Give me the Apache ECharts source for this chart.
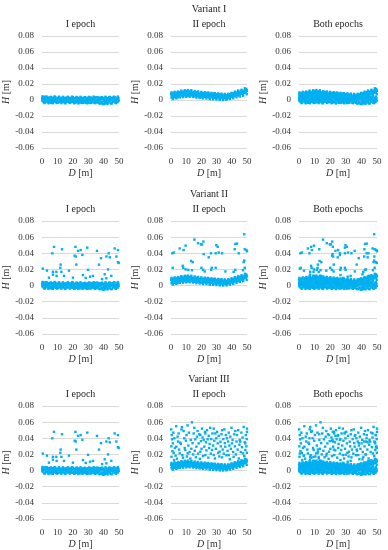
<!DOCTYPE html>
<html><head><meta charset="utf-8">
<script src="https://cdn.jsdelivr.net/npm/echarts@6/dist/echarts.min.js"></script>
<style>html,body{margin:0;padding:0;background:#fff}#c{width:388px;height:550px}</style>
</head><body><div id="c"></div>
<script>
// ---------- DATA ----------
const variantTitles = ['Variant I', 'Variant II', 'Variant III'];
const panelTitles = ['I epoch', 'II epoch', 'Both epochs'];
const yTicks = [-0.06, -0.04, -0.02, 0, 0.02, 0.04, 0.06, 0.08];
const xTicks = [0, 10, 20, 30, 40, 50];

// I epoch: main band of points [D, H]
const bandEpoch1 = [
[0.1,0.0021],[0.4,-0.0012],[0.7,0.0034],[1.1,-0.0025],[1.4,0.0008],[1.8,0.0041],[2.1,-0.0031],[2.5,0.0015],[2.9,-0.0004],[3.2,0.0027],[3.6,-0.0019],[4.0,0.0006],[4.3,-0.0028],[4.7,0.0031],[5.1,-0.0009],[5.4,0.0018],[5.8,-0.0035],[6.2,0.0024],[6.5,-0.0015],[6.9,0.0002],[7.3,0.0029],[7.6,-0.0024],[8.0,0.0011],[8.4,-0.0006],[8.7,0.0036],[9.1,-0.0029],[9.5,0.0017],[9.8,-0.0011],[10.2,0.0025],[10.6,-0.0033],[10.9,0.0007],[11.3,0.0032],[11.7,-0.0018],[12.0,0.0013],[12.4,-0.0026],[12.8,0.0022],[13.1,-0.0003],[13.5,0.0038],[13.9,-0.0021],[14.2,0.0009],[14.6,-0.0032],[15.0,0.0019],[15.3,-0.0008],[15.7,0.0028],[16.1,-0.0023],[16.4,0.0004],[16.8,0.0033],[17.2,-0.0016],[17.5,0.0014],[17.9,-0.0030],[18.3,0.0026],[18.6,-0.0005],[19.0,0.0020],[19.4,-0.0027],[19.7,0.0010],[20.1,0.0035],[20.5,-0.0020],[20.8,0.0003],[21.2,-0.0034],[21.6,0.0023],[21.9,-0.0010],[22.3,0.0030],[22.7,-0.0025],[23.0,0.0012],[23.4,-0.0007],[23.8,0.0027],[24.1,-0.0031],[24.5,0.0016],[24.9,-0.0014],[25.2,0.0005],[25.6,-0.0036],[26.0,0.0021],[26.3,-0.0009],[26.7,0.0011],[27.1,-0.0029],[27.4,0.0024],[27.8,-0.0017],[28.2,0.0006],[28.5,-0.0033],[28.9,0.0018],[29.3,-0.0002],[29.6,0.0029],[30.0,-0.0022],[30.4,0.0013],[30.7,-0.0038],[31.1,0.0008],[31.5,-0.0012],[31.8,0.0031],[32.2,-0.0026],[32.6,0.0017],[32.9,-0.0006],[33.3,0.0022],[33.7,-0.0032],[34.0,0.0010],[34.4,-0.0019],[34.8,0.0034],[35.1,-0.0028],[35.5,0.0004],[35.9,-0.0013],[36.2,0.0026],[36.6,-0.0035],[37.0,0.0015],[37.3,-0.0008],[37.7,0.0030],[38.1,-0.0041],[38.4,0.0009],[38.8,-0.0023],[39.2,0.0019],[39.5,-0.0048],[39.9,0.0025],[40.3,-0.0015],[40.6,0.0003],[41.0,-0.0044],[41.4,0.0028],[41.7,-0.0021],[42.1,0.0012],[42.5,-0.0037],[42.8,0.0023],[43.2,-0.0010],[43.6,0.0032],[43.9,-0.0030],[44.3,0.0007],[44.7,-0.0042],[45.0,0.0020],[45.4,-0.0005],[45.8,0.0029],[46.1,-0.0024],[46.5,0.0014],[46.9,-0.0011],[47.2,0.0036],[47.6,-0.0033],[48.0,0.0008],[48.3,-0.0018],[48.7,0.0027],[49.1,-0.0026],[49.4,0.0015],[49.8,-0.0007],
[0.2,-0.0003],[1.2,0.0012],[2.3,-0.0016],[3.4,0.0003],[4.5,0.0019],[5.6,-0.0022],[6.7,0.0014],[7.8,-0.0001],[8.9,0.0009],[10.0,-0.0017],[11.1,0.0016],[12.2,-0.0004],[13.3,-0.0013],[14.4,0.0026],[15.5,0.0001],[16.6,-0.0020],[17.7,0.0021],[18.8,-0.0012],[19.9,0.0006],[21.0,0.0015],[22.1,-0.0028],[23.2,0.0019],[24.3,0.0002],[25.4,-0.0019],[26.5,0.0027],[27.6,-0.0004],[28.7,-0.0024],[29.8,0.0011],[30.9,0.0001],[32.0,-0.0015],[33.1,0.0005],[34.2,0.0025],[35.3,-0.0011],[36.4,-0.0022],[37.5,0.0007],[38.6,-0.0030],[39.7,0.0013],[40.8,-0.0027],[41.9,-0.0008],[43.0,0.0016],[44.1,-0.0019],[45.2,0.0024],[46.3,-0.0013],[47.4,0.0002],[48.5,-0.0009],[49.6,0.0021],
[0.3,0.0045],[1.6,-0.0038],[3.0,0.0043],[4.2,-0.0041],[5.7,0.0039],[7.0,-0.0040],[8.2,0.0044],[9.7,-0.0037],[11.0,0.0041],[12.6,-0.0039],[13.7,0.0036],[15.2,-0.0042],[16.9,0.0040],[18.1,-0.0036],[19.5,0.0042],[20.9,-0.0040],[22.5,0.0038],[23.6,-0.0043],[25.0,0.0040],[26.6,-0.0037],[27.9,0.0035],[29.1,-0.0041],[30.6,0.0039],[31.9,-0.0036],[33.5,0.0042],[34.6,-0.0040],[36.0,0.0037],[37.4,-0.0045],[38.9,0.0036],[40.0,-0.0052],[41.2,0.0040],[42.6,-0.0047],[44.0,0.0038],[45.3,-0.0044],[46.7,0.0041],[48.1,-0.0039],[49.3,0.0043]
];

// II epoch: main band of points [D, H]
const bandEpoch2 = [
[0.1,0.0072],[0.4,0.0031],[0.8,0.0058],[1.1,0.0024],[1.5,0.0081],[1.9,0.0046],[2.2,0.0089],[2.6,0.0035],[3.0,0.0067],[3.3,0.0042],[3.7,0.0091],[4.1,0.0053],[4.4,0.0032],[4.8,0.0078],[5.2,0.0061],[5.5,0.0097],[5.9,0.0049],[6.3,0.0084],[6.6,0.0055],[7.0,0.0102],[7.4,0.0071],[7.7,0.0048],[8.1,0.0093],[8.5,0.0066],[8.8,0.0108],[9.2,0.0057],[9.6,0.0086],[9.9,0.0074],[10.3,0.0112],[10.7,0.0052],[11.0,0.0095],[11.4,0.0069],[11.8,0.0105],[12.1,0.0056],[12.5,0.0088],[12.9,0.0076],[13.2,0.0109],[13.6,0.0061],[14.0,0.0092],[14.3,0.0050],[14.7,0.0083],[15.1,0.0098],[15.4,0.0047],[15.8,0.0079],[16.2,0.0064],[16.5,0.0096],[16.9,0.0045],[17.3,0.0072],[17.6,0.0089],[18.0,0.0052],[18.4,0.0081],[18.7,0.0038],[19.1,0.0068],[19.5,0.0091],[19.8,0.0049],[20.2,0.0077],[20.6,0.0033],[20.9,0.0062],[21.3,0.0085],[21.7,0.0041],[22.0,0.0071],[22.4,0.0054],[22.8,0.0088],[23.1,0.0036],[23.5,0.0066],[23.9,0.0079],[24.2,0.0043],[24.6,0.0058],[25.0,0.0082],[25.3,0.0029],[25.7,0.0061],[26.1,0.0047],[26.4,0.0075],[26.8,0.0034],[27.2,0.0068],[27.5,0.0052],[27.9,0.0081],[28.3,0.0027],[28.6,0.0057],[29.0,0.0042],[29.4,0.0071],[29.7,0.0024],[30.1,0.0053],[30.5,0.0066],[30.8,0.0031],[31.2,0.0047],[31.6,0.0072],[31.9,0.0019],[32.3,0.0044],[32.7,0.0059],[33.0,0.0026],[33.4,0.0068],[33.8,0.0037],[34.1,0.0012],[34.5,0.0051],[34.9,0.0033],[35.2,0.0064],[35.6,0.0021],[36.0,0.0045],[36.3,0.0058],[36.7,0.0016],[37.1,0.0039],[37.4,0.0062],[37.8,0.0028],[38.2,0.0053],[38.5,0.0071],[38.9,0.0034],[39.3,0.0061],[39.6,0.0046],[40.0,0.0078],[40.4,0.0039],[40.7,0.0066],[41.1,0.0083],[41.5,0.0048],[41.8,0.0072],[42.2,0.0091],[42.6,0.0055],[42.9,0.0079],[43.3,0.0064],[43.7,0.0098],[44.0,0.0058],[44.4,0.0086],[44.8,0.0103],[45.1,0.0069],[45.5,0.0092],[45.9,0.0075],[46.2,0.0111],[46.6,0.0081],[47.0,0.0099],[47.3,0.0072],[47.7,0.0118],[48.1,0.0089],[48.4,0.0106],[48.8,0.0127],[49.2,0.0094],[49.5,0.0138],[49.9,0.0113],
[0.6,0.0049],[1.7,0.0063],[2.8,0.0052],[3.9,0.0074],[5.0,0.0083],[6.1,0.0069],[7.2,0.0087],[8.3,0.0079],[9.4,0.0099],[10.5,0.0081],[11.6,0.0067],[12.7,0.0097],[13.8,0.0083],[14.9,0.0071],[16.0,0.0081],[17.1,0.0058],[18.2,0.0069],[19.3,0.0057],[20.4,0.0052],[21.5,0.0066],[22.6,0.0047],[23.7,0.0059],[24.8,0.0069],[25.9,0.0053],[27.0,0.0043],[28.1,0.0064],[29.2,0.0055],[30.3,0.0038],[31.4,0.0057],[32.5,0.0032],[33.6,0.0049],[34.7,0.0041],[35.8,0.0032],[36.9,0.0049],[38.0,0.0042],[39.1,0.0049],[40.2,0.0056],[41.3,0.0062],[42.4,0.0074],[43.5,0.0081],[44.6,0.0072],[45.7,0.0083],[46.8,0.0094],[47.9,0.0101],[49.0,0.0114],[49.7,0.0124],
[0.3,0.0095],[1.3,0.0012],[2.4,0.0101],[3.5,0.0021],[4.6,0.0106],[5.8,0.0034],[6.8,0.0117],[8.0,0.0036],[9.1,0.0121],[10.1,0.0039],[11.2,0.0124],[12.3,0.0041],[13.4,0.0122],[14.5,0.0038],[15.6,0.0112],[16.7,0.0030],[17.8,0.0107],[18.9,0.0027],[20.0,0.0101],[21.1,0.0021],[22.2,0.0098],[23.3,0.0019],[24.4,0.0094],[25.5,0.0011],[26.6,0.0089],[27.7,0.0009],[28.8,0.0085],[29.9,0.0006],[31.0,0.0082],[32.1,0.0002],[33.2,0.0079],[34.3,0.0001],[35.4,0.0076],[36.5,0.0003],[37.6,0.0077],[38.7,0.0012],[39.8,0.0089],[40.9,0.0022],[42.0,0.0104],[43.1,0.0035],[44.2,0.0118],[45.3,0.0044],[46.4,0.0128],[47.5,0.0054],[48.6,0.0146],[49.8,0.0072]
];

// Outliers, I epoch (Variants II and III)
const outEpoch1 = [
[0.5,0.021],[3.2,0.0185],[4.5,0.0098],[6.7,0.040],[7.8,0.048],[7.1,0.017],[7.1,0.0135],[9.5,0.012],[9.3,0.017],[11.9,0.022],[12.1,0.026],[13.0,0.045],[12.6,0.017],[14.3,0.012],[17.5,0.0185],[20.1,0.0098],[21.2,0.037],[21.7,0.048],[21.9,0.036],[22.3,0.026],[23.4,0.043],[25.1,0.044],[26.2,0.038],[26.6,0.013],[29.4,0.047],[29.9,0.0195],[28.4,0.0095],[31.2,0.011],[33.1,0.012],[35.7,0.043],[37.0,0.026],[38.3,0.034],[39.0,0.008],[40.7,0.014],[41.8,0.036],[42.9,0.020],[43.3,0.040],[44.0,0.035],[45.0,0.012],[47.2,0.046],[48.3,0.036],[49.3,0.044],[49.8,0.028],[49.3,0.029],[41.8,0.009]
];

// Outliers, II epoch, Variant II
const outEpoch2V2 = [
[48.2,0.0636],[1.8,0.041],[0.9,0.040],[1.1,0.022],[5.7,0.046],[8.3,0.044],[9.6,0.0495],[7.7,0.0245],[8.1,0.022],[9.6,0.020],[11.4,0.0195],[13.2,0.0305],[14.3,0.029],[13.8,0.019],[15.4,0.057],[17.8,0.0525],[19.7,0.051],[20.4,0.051],[21.3,0.0545],[21.5,0.039],[20.0,0.022],[21.1,0.0195],[22.2,0.0175],[24.8,0.035],[26.3,0.040],[26.8,0.022],[26.5,0.0195],[29.4,0.022],[29.8,0.050],[30.7,0.048],[29.4,0.040],[31.4,0.041],[33.6,0.040],[35.8,0.0175],[42.3,0.0515],[41.9,0.045],[43.4,0.052],[44.5,0.040],[42.3,0.0195],[41.2,0.017],[47.8,0.029],[48.2,0.031],[48.5,0.045],[50.0,0.0425],[49.6,0.044],[48.5,0.022],[47.4,0.019]
];

// Outliers, II epoch, Variant III
const outEpoch2V3 = [
[0.1,0.051],[0.2,0.030],[0.3,0.017],[0.5,0.044],[0.7,0.0387],[0.9,0.024],[1.2,0.0337],[1.5,0.047],[1.8,0.022],[2.0,0.013],[2.2,0.040],[2.6,0.028],[3.0,0.0185],[3.4,0.055],[3.5,0.0296],[3.9,0.0147],[4.3,0.042],[4.6,0.036],[5.0,0.046],[5.3,0.026],[5.7,0.0213],[6.1,0.0346],[6.5,0.033],[6.9,0.051],[7.2,0.054],[7.5,0.019],[7.9,0.016],[8.3,0.049],[8.7,0.040],[9.0,0.028],[9.4,0.0255],[9.8,0.037],[10.2,0.044],[10.5,0.0175],[10.9,0.056],[11.0,0.0213],[11.4,0.031],[11.8,0.047],[12.2,0.023],[12.7,0.015],[13.0,0.038],[13.4,0.027],[13.8,0.0598],[14.2,0.034],[14.6,0.020],[14.9,0.046],[15.3,0.053],[15.6,0.0245],[16.0,0.0387],[16.4,0.0165],[16.7,0.0296],[17.1,0.042],[17.5,0.049],[17.8,0.021],[18.2,0.0337],[18.6,0.045],[19.0,0.0145],[19.3,0.044],[19.3,0.0234],[19.7,0.0365],[20.1,0.027],[20.4,0.052],[20.8,0.041],[21.1,0.018],[21.5,0.0379],[21.9,0.0296],[22.3,0.048],[22.6,0.046],[22.6,0.0192],[23.0,0.035],[23.3,0.025],[23.7,0.050],[24.1,0.0387],[24.5,0.016],[24.8,0.043],[25.1,0.028],[25.4,0.033],[25.8,0.053],[26.2,0.021],[26.5,0.039],[27.0,0.0255],[27.3,0.046],[27.7,0.031],[28.1,0.052],[28.1,0.0192],[28.5,0.037],[28.9,0.015],[29.2,0.046],[29.5,0.027],[29.8,0.040],[30.3,0.048],[30.7,0.0337],[31.0,0.022],[31.4,0.043],[31.8,0.0175],[32.0,0.0234],[32.5,0.0358],[32.8,0.030],[33.2,0.045],[33.6,0.050],[33.6,0.0164],[34.0,0.026],[34.4,0.039],[34.8,0.021],[35.1,0.051],[35.4,0.034],[35.7,0.0296],[36.1,0.044],[36.5,0.019],[36.8,0.040],[37.2,0.0245],[37.6,0.036],[38.0,0.047],[38.0,0.0192],[38.4,0.031],[38.7,0.014],[39.0,0.042],[39.4,0.027],[39.8,0.053],[40.1,0.0337],[40.5,0.038],[40.9,0.023],[41.2,0.017],[41.6,0.045],[42.0,0.030],[42.3,0.049],[42.7,0.020],[43.1,0.036],[43.4,0.044],[43.8,0.026],[44.2,0.050],[44.6,0.015],[45.0,0.032],[45.2,0.0379],[45.6,0.0358],[45.9,0.023],[46.3,0.047],[46.7,0.029],[47.1,0.041],[47.4,0.0213],[47.8,0.054],[48.2,0.018],[48.5,0.035],[48.9,0.0337],[48.9,0.0255],[49.2,0.044],[49.6,0.030],[50.0,0.052],[50.0,0.048],[49.8,0.039],[49.9,0.022]
];

// panel datasets [row][col]
const panels = [
  [bandEpoch1, bandEpoch2, bandEpoch1.concat(bandEpoch2)],
  [bandEpoch1.concat(outEpoch1), bandEpoch2.concat(outEpoch2V2), bandEpoch1.concat(outEpoch1, bandEpoch2, outEpoch2V2)],
  [bandEpoch1.concat(outEpoch1), bandEpoch2.concat(outEpoch2V3), bandEpoch1.concat(outEpoch1, bandEpoch2, outEpoch2V3)]
];

// ---------- LAYOUT ----------
const colLeft = [42, 171, 299];
const colWidth = [77, 76, 78];
const rowTop = [36, 221, 406];
const rowHeight = [112, 113, 113];
const FONT = '"Liberation Serif", "DejaVu Serif", serif';
const PT_COLOR = '#00B0F0';

const chart = echarts.init(document.getElementById('c'), null, {renderer: 'canvas'});
const grid = [], xAxis = [], yAxis = [], series = [], graphic = [];
let gi = 0;
for (let r = 0; r < 3; r++) {
  graphic.push({type: 'text', x: colLeft[1] + colWidth[1] / 2, y: rowTop[r] - 27,
    style: {text: variantTitles[r], font: '10px ' + FONT, fill: '#262626', textAlign: 'center', textVerticalAlign: 'middle'}});
  for (let c = 0; c < 3; c++) {
    grid.push({left: colLeft[c], top: rowTop[r], width: colWidth[c], height: rowHeight[r], containLabel: false});
    graphic.push({type: 'text', x: colLeft[c] + colWidth[c] / 2, y: rowTop[r] - 12,
      style: {text: panelTitles[c], font: '10px ' + FONT, fill: '#262626', textAlign: 'center', textVerticalAlign: 'middle'}});
    xAxis.push({
      gridIndex: gi, type: 'value', min: xTicks[0], max: xTicks[xTicks.length - 1], interval: 10,
      axisLine: {show: false}, axisTick: {show: false}, splitLine: {show: false},
      axisLabel: {fontFamily: FONT, fontSize: 9, color: '#333', margin: 9},
      name: '{i|D} [m]', nameLocation: 'middle', nameGap: 20,
      nameTextStyle: {fontFamily: FONT, fontSize: 10, color: '#333', rich: {i: {fontFamily: FONT, fontSize: 10, fontStyle: 'italic', color: '#333'}}}
    });
    yAxis.push({
      gridIndex: gi, type: 'value', min: yTicks[0], max: yTicks[yTicks.length - 1], interval: 0.02,
      axisLine: {show: false}, axisTick: {show: false},
      splitLine: {show: true, lineStyle: {color: '#d9d9d9', width: 1}},
      axisLabel: {fontFamily: FONT, fontSize: 9, color: '#333', margin: 8,
        formatter: v => Math.abs(v) < 1e-9 ? '0' : v.toFixed(2)},
      name: '{i|H} [m]', nameLocation: 'middle', nameGap: 30, nameRotate: 90,
      nameTextStyle: {fontFamily: FONT, fontSize: 10, color: '#333', rich: {i: {fontFamily: FONT, fontSize: 10, fontStyle: 'italic', color: '#333'}}}
    });
    series.push({
      type: 'scatter', xAxisIndex: gi, yAxisIndex: gi, data: panels[r][c],
      symbol: 'rect', symbolSize: 2.4, itemStyle: {color: PT_COLOR, opacity: 1},
      silent: true, animation: false
    });
    gi++;
  }
}
chart.setOption({animation: false, backgroundColor: '#fff', grid, xAxis, yAxis, series, graphic});
</script></body></html>
